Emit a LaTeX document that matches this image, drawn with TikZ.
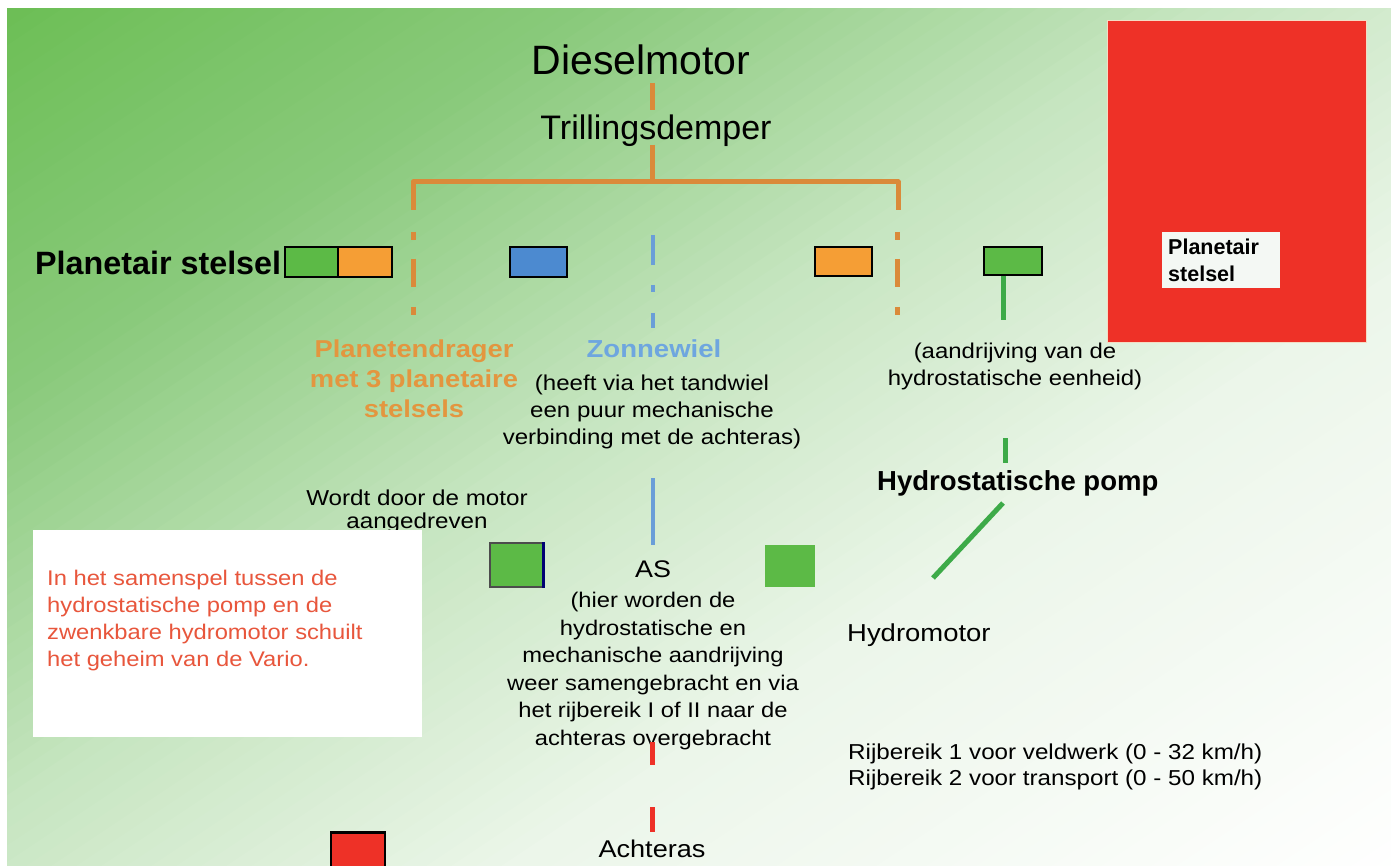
\documentclass[tikz,border=0pt]{standalone}
\usepackage{fontspec}
\setmainfont{Liberation Sans}
\newfontfamily\wide{Liberation Sans}[FakeStretch=1.12]
\definecolor{gA}{HTML}{6CBE55}
\definecolor{gB}{HTML}{8ACA7C}
\definecolor{gC}{HTML}{C6E5C0}
\definecolor{gD}{HTML}{ECF6EA}
\definecolor{orln}{HTML}{DA8A3A}
\definecolor{orfill}{HTML}{F59E35}
\definecolor{grfill}{HTML}{5CBA46}
\definecolor{blfill}{HTML}{4C8AD0}
\definecolor{blln}{HTML}{6A9ED8}
\definecolor{grln}{HTML}{3DAA48}
\definecolor{redc}{HTML}{EE3127}
\definecolor{ortext}{HTML}{E3963F}
\definecolor{bltext}{HTML}{6EA6DF}
\definecolor{redtext}{HTML}{E8563C}
\definecolor{wbox}{HTML}{F4F8F4}
\begin{document}
\begin{tikzpicture}[x=1pt,y=-1pt,
  txt/.style={inner sep=0pt, text=black},
  bx/.style={draw=black, line width=2.5pt, inner sep=0pt},
  oline/.style={draw=orln, line width=5pt},
  bline/.style={draw=blln, line width=4pt},
  gline/.style={draw=grln, line width=5pt},
  rline/.style={draw=redc, line width=5pt},
  body/.style={txt, font=\wide\fontsize{21.5}{27}\selectfont}]
\useasboundingbox (0,0) rectangle (1391,866);
% background gradient
\begin{scope}
\clip (7,9) rectangle (1391,866);
\foreach \i in {0,...,107}{
  \pgfmathtruncatemacro\seg{\i<24 ? 0 : (\i<48 ? 1 : (\i<72 ? 2 : 3))}
  \pgfmathtruncatemacro\pct{\seg<3 ? (\i-24*\seg)*100/24 : (\i-72)*100/36}
  \ifcase\seg \colorlet{bandc}{gB!\pct!gA}\or \colorlet{bandc}{gC!\pct!gB}\or \colorlet{bandc}{gD!\pct!gC}\else \colorlet{bandc}{white!\pct!gD}\fi
  \fill[bandc] (25*\i,0) -- (25*\i+27,0) -- (25*\i+27-1305,870) -- (25*\i-1305,870) -- cycle;
}
\end{scope}

% big red box with label
\node[fill=redc, draw=orln!30!white, line width=1.2pt, minimum width=259, minimum height=322, inner sep=0, anchor=north west] (redbig) at (1107,20) {};
\node[fill=wbox, minimum width=118, minimum height=56, inner sep=0, anchor=north west] (pbox) at (1162,232) {};
\node[txt, anchor=west, align=left, font=\bfseries\fontsize{21.5}{27}\selectfont] (ptext) at (1168,260) {Planetair\\stelsel};

% titles
\node[txt, anchor=base, font=\fontsize{41}{48}\selectfont] (diesel) at (641,75) {Dieselmotor};
\node[txt, anchor=base, font=\fontsize{34}{40}\selectfont] (trill) at (656,140) {Trillingsdemper};

% orange structure
\coordinate (d1) at (652,83); \coordinate (d2) at (652,110);
\draw[oline] (d1) -- (d2);
\coordinate (tj) at (652,145); \coordinate (hj) at (652,182);
\draw[oline] (tj) -- (hj);
\coordinate (bl) at (413,210); \coordinate (br) at (898,210);
\draw[oline, line join=round] (bl) |- (hj) -| (br);
\coordinate (bl1) at (413,232); \coordinate (bl2) at (413,315);
\coordinate (br1) at (897,232); \coordinate (br2) at (897,315);
\draw[oline, dash pattern=on 8 off 19 on 28 off 20 on 8] (bl1) -- (bl2);
\draw[oline, dash pattern=on 8 off 19 on 28 off 20 on 8] (br1) -- (br2);

% row of boxes
\node[txt, anchor=base west, font=\bfseries\fontsize{32.3}{38}\selectfont] (plan) at (35,275) {Planetair stelsel};
\node[bx, fill=grfill, minimum width=53, minimum height=30] (g1) at (311.5,262) {};
\node[bx, fill=orfill, minimum width=54, minimum height=30] (o1) at (365,262) {};
\node[bx, fill=blfill, minimum width=57, minimum height=30] (b1) at (538.5,262) {};
\node[bx, fill=orfill, minimum width=57, minimum height=29] (o2) at (843.5,261.5) {};
\node[bx, fill=grfill, minimum width=58, minimum height=28] (g2) at (1013,261) {};

% blue sun-wheel line
\coordinate (s1) at (653,235); \coordinate (s2) at (653,328);
\draw[bline, dash pattern=on 30 off 20 on 7 off 21 on 15] (s1) -- (s2);

% green line under green box
\draw[gline] ([xshift=-10]g2.south) -- ++(0,44);

% labels middle
\node[txt, align=center, text=ortext, font=\wide\bfseries\fontsize{24.4}{30}\selectfont] (pdr) at (414,379) {Planetendrager\\met 3 planetaire\\stelsels};
\node[txt, text=bltext, font=\wide\bfseries\fontsize{24.6}{30}\selectfont] (zon) at (654,349) {Zonnewiel};
\node[body, align=center] (heeft) at (652,412) {(heeft via het tandwiel\\een puur mechanische\\verbinding met de achteras)};
\node[body, align=center, font=\wide\fontsize{21.4}{27}\selectfont] (aandr) at (1015,366) {(aandrijving van de\\hydrostatische eenheid)};

% hydrostatic branch
\coordinate (h1) at (1005,438); \coordinate (h2) at (1005,463);
\draw[gline] (h1) -- (h2);
\node[txt, anchor=base west, font=\bfseries\fontsize{27.5}{33}\selectfont] (pomp) at (877,490) {Hydrostatische pomp};
\coordinate (h3) at (1003,503); \coordinate (h4) at (933,578);
\draw[gline] (h3) -- (h4);
\node[txt, anchor=base west, font=\wide\fontsize{24.5}{30}\selectfont] (hmot) at (847,641) {Hydromotor};

% left side
\node[body, align=center, font=\wide\fontsize{21.6}{23.5}\selectfont] (wordt) at (417,511.5) {Wordt door de motor\\aangedreven};
\node[fill=white, minimum width=389, minimum height=207, inner sep=0, anchor=north west] (wbox) at (33,530) {};
\node[txt, anchor=west, align=left, text=redtext, font=\wide\fontsize{21.2}{27}\selectfont] (red) at (47,621) {In het samenspel tussen de\\hydrostatische pomp en de\\zwenkbare hydromotor schuilt\\het geheim van de Vario.};

% AS row
\coordinate (a1) at (653,478); \coordinate (a2) at (653,545);
\draw[bline] (a1) -- (a2);
\node[fill=grfill, draw=black!70, line width=1.2pt, minimum width=53, minimum height=44, inner sep=0] (asl) at (516.5,565) {};
\draw[draw=blue!45!black, line width=3pt] (asl.north east) -- (asl.south east);
\node[fill=grfill, minimum width=50, minimum height=42, inner sep=0] (asr) at (790,566) {};
\node[txt, anchor=base, font=\wide\fontsize{24}{30}\selectfont] (as) at (653,577) {AS};
\node[body, align=center, font=\wide\fontsize{21.2}{27.6}\selectfont] (astext) at (653,671) {(hier worden de\\hydrostatische en\\mechanische aandrijving\\weer samengebracht en via\\het rijbereik I of II naar de\\achteras overgebracht};

% rear axle
\coordinate (r1) at (652,742); \coordinate (r2) at (652,765);
\coordinate (r3) at (652,807); \coordinate (r4) at (652,832);
\draw[rline] (r1) -- (r2);
\draw[rline] (r3) -- (r4);
\node[txt, anchor=base, font=\wide\fontsize{24.2}{30}\selectfont] (achter) at (652,857) {Achteras};
\node[bx, fill=redc, minimum width=54, minimum height=50, anchor=north] (rsq) at (358,831) {};

% ranges
\node[body, anchor=west, align=left, font=\wide\fontsize{21.6}{26}\selectfont] (rij) at (848,767) {Rijbereik 1 voor veldwerk (0 - 32 km/h)\\Rijbereik 2 voor transport (0 - 50 km/h)};
\end{tikzpicture}
\end{document}
